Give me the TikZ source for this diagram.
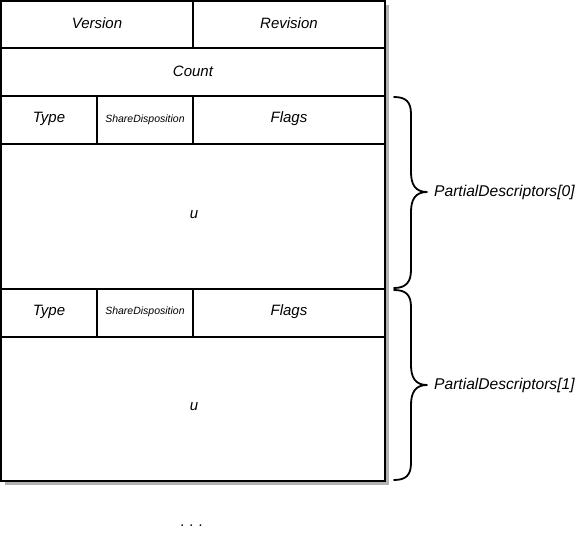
\documentclass[tikz,border=0pt]{standalone}
\usepackage{fontspec}
\setmainfont{Liberation Sans}
\begin{document}
\begin{tikzpicture}[x=1pt,y=-1pt,
  cell/.style={font=\itshape\fontsize{15}{17}\selectfont, inner sep=0pt},
  small/.style={font=\itshape\fontsize{10.5}{12}\selectfont, inner sep=0pt},
  grid/.style={line width=2pt},
  brace/.style={line width=1.8pt, line cap=round, line join=round},
  lbl/.style={font=\itshape\fontsize{15.6}{17}\selectfont, anchor=west, inner sep=0pt}]
\useasboundingbox (0,0) rectangle (579,541);
% shadow
\fill[gray!60] (5,5) rectangle (389,485);
\fill[white] (1,1) rectangle (385,481);
% grid
\draw[grid] (1,1) rectangle (385,481);
\draw[grid] (1,48) -- (385,48);
\draw[grid] (1,96) -- (385,96);
\draw[grid] (1,144) -- (385,144);
\draw[grid] (1,289) -- (385,289);
\draw[grid] (1,337) -- (385,337);
\draw[grid] (193,1) -- (193,48);
\draw[grid] (97,96) -- (97,144);
\draw[grid] (193,96) -- (193,144);
\draw[grid] (97,289) -- (97,337);
\draw[grid] (193,289) -- (193,337);
% texts
\node[cell] (ver) at (97,23) {Version};
\node[cell] (rev) at (289,23) {Revision};
\node[cell] (cnt) at (193,71) {Count};
\node[cell] (t0) at (49,119) {Type};
\node[small] (s0) at (145,120) {ShareDisposition};
\node[cell] (f0) at (289,119) {Flags};
\node[cell] (u0) at (194,215) {u};
\node[cell] (t1) at (49,312) {Type};
\node[small] (s1) at (145,312) {ShareDisposition};
\node[cell] (f1) at (289,312) {Flags};
\node[cell] (u1) at (194,407) {u};
\node[cell, anchor=base] (dots) at (192,526) {.\,\,.\,\,.};
% braces
\coordinate (b0t) at (394,97);
\coordinate (b0m) at (427,192);
\coordinate (b0b) at (394,288);
\coordinate (b1t) at (394,290);
\coordinate (b1m) at (427,385);
\coordinate (b1b) at (394,480);
\draw[brace] (b0t) .. controls (406,97) and (411,102) .. (411,114) -- (411,172)
  .. controls (411,184) and (415,192) .. (b0m)
  .. controls (415,192) and (411,200) .. (411,212) -- (411,270)
  .. controls (411,282) and (406,288) .. (b0b);
\draw[brace] (b1t) .. controls (406,290) and (411,295) .. (411,307) -- (411,365)
  .. controls (411,377) and (415,385) .. (b1m)
  .. controls (415,385) and (411,393) .. (411,405) -- (411,463)
  .. controls (411,475) and (406,480) .. (b1b);
\node[lbl] (pd0) at (434,192) {PartialDescriptors[0]};
\node[lbl] (pd1) at (434,385) {PartialDescriptors[1]};
\end{tikzpicture}
\end{document}
